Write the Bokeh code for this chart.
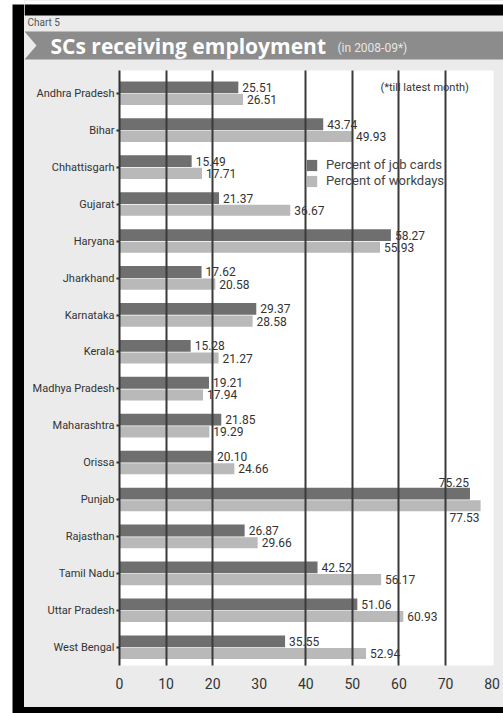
from bokeh.plotting import figure
from bokeh.layouts import row, column
from bokeh.models import (Range1d, FixedTicker, BoxAnnotation, PolyAnnotation, Label,
                          Legend, LegendItem, ColumnDataSource)
from bokeh.transform import dodge
from bokeh.core.properties import value
from bokeh.embed import file_html
from bokeh.resources import INLINE

# ---- data ----
states = ["Andhra Pradesh", "Bihar", "Chhattisgarh", "Gujarat", "Haryana", "Jharkhand",
          "Karnataka", "Kerala", "Madhya Pradesh", "Maharashtra", "Orissa", "Punjab",
          "Rajasthan", "Tamil Nadu", "Uttar Pradesh", "West Bengal"]
job_cards = [25.51, 43.74, 15.49, 21.37, 58.27, 17.62, 29.37, 15.28, 19.21, 21.85,
             20.10, 75.25, 26.87, 42.52, 51.06, 35.55]
work_days = [26.51, 49.93, 17.71, 36.67, 55.93, 20.58, 28.58, 21.27, 17.94, 19.29,
             24.66, 77.53, 29.66, 56.17, 60.93, 52.94]
x_ticks = [0, 10, 20, 30, 40, 50, 60, 70, 80]
grid_at = [10, 20, 40, 50, 60, 70]
series_names = ["Percent of job cards", "Percent of workdays"]
chart_no = "Chart 5"
title_text = "SCs receiving employment"
subtitle_text = "(in 2008-09*)"
note_text = "(*till latest month)"

DARK = "#6f6f6f"
LIGHT = "#b9b9b9"
PANEL = "#ebebeb"
BAND = "#8c8c8c"
TXT = "#333333"
FONT = "Roboto"


def blank(width, height, bg, border):
    f = figure(width=width, height=height, output_backend="svg", toolbar_location=None,
               x_axis_type=None, y_axis_type=None, min_border=0)
    f.background_fill_color = bg
    f.border_fill_color = border
    f.outline_line_color = None
    f.frame_align = False
    return f


def cbox(top, bottom, left, right, color):
    return BoxAnnotation(left=left, right=right, top=top, bottom=bottom,
                         left_units="canvas", right_units="canvas", top_units="canvas",
                         bottom_units="canvas", fill_color=color, fill_alpha=1,
                         line_color=None, level="underlay")


# ---- left black frame strip ----
left = blank(24, 713, "black", "white")
left.min_border_left = 12
left.min_border_top = 4

# ---- header ----
HW, HH = 479, 70
head = blank(HW, HH, PANEL, PANEL)
head.add_layout(cbox(0, 4, 0, HW, "white"))
head.add_layout(cbox(4, 15, 0, HW, "black"))
head.add_layout(PolyAnnotation(xs=[0, HW, HW, 0, 12], ys=[31, 31, 59, 59, 45],
                               xs_units="canvas", ys_units="canvas",
                               fill_color=BAND, fill_alpha=1, line_color=None))
head.add_layout(Label(x=3, y=22, x_units="canvas", y_units="canvas", text=chart_no,
                      text_font=FONT, text_font_size="10px", text_baseline="middle",
                      text_color="#555555"))
head.add_layout(Label(x=26, y=45, x_units="canvas", y_units="canvas", text=title_text,
                      text_font="Open Sans", text_font_style="bold",
                      text_font_size="21px", text_baseline="middle", text_color="white"))
head.add_layout(Label(x=313, y=47, x_units="canvas", y_units="canvas", text=subtitle_text,
                      text_font=FONT, text_font_size="12px", text_baseline="middle",
                      text_color="#e6e6e6"))

# ---- main chart ----
MW, MH = 479, 637
ys = list(range(len(states)))
p = figure(width=MW, height=MH, output_backend="svg", toolbar_location=None,
           x_range=Range1d(0, 80.3), y_range=Range1d(15.49, -0.62),
           min_border_left=95, min_border_right=10, min_border_top=0,
           min_border_bottom=42, styles={"background-color": PANEL})
p.background_fill_color = "white"
p.border_fill_color = PANEL
p.outline_line_color = None
p.frame_align = False

OFF = 0.165
src = ColumnDataSource(dict(y=ys, job=job_cards, work=work_days))
r1 = p.hbar(y=dodge("y", -OFF), left=0, right="job", height=0.32, source=src,
            fill_color=DARK, line_color=None)
r2 = p.hbar(y=dodge("y", OFF), left=0, right="work", height=0.30, source=src,
            fill_color=LIGHT, line_color=None)


def lbl_sources(vals, shift):
    normal = dict(x=[], y=[], t=[])
    long_ = dict(x=[], y=[], t=[])
    for i, v in enumerate(vals):
        d = long_ if v >= 70 else normal
        d["x"].append(v)
        d["y"].append(i + shift)
        d["t"].append(f"{v:.2f}")
    return normal, long_


for vals, shift, base, yo in ((job_cards, -OFF, "bottom", -7), (work_days, OFF, "top", 7)):
    normal, long_ = lbl_sources(vals, shift)
    p.text(x="x", y="y", text="t", source=ColumnDataSource(normal), x_offset=4,
           text_font=value(FONT), text_font_size="12px", text_baseline="middle",
           text_color=TXT)
    p.text(x="x", y="y", text="t", source=ColumnDataSource(long_), x_offset=-1, y_offset=yo,
           text_font=value(FONT), text_font_size="12px", text_baseline=base,
           text_align="right", text_color=TXT)

p.xaxis.ticker = FixedTicker(ticks=x_ticks)
p.xaxis.axis_line_color = None
p.xaxis.major_tick_line_color = None
p.xaxis.minor_tick_line_color = None
p.xaxis.major_label_text_font = FONT
p.xaxis.major_label_text_font_size = "14px"
p.xaxis.major_label_text_color = TXT
p.xaxis.major_label_standoff = 6

p.yaxis.ticker = FixedTicker(ticks=ys)
p.yaxis.major_label_overrides = {i: s for i, s in enumerate(states)}
p.yaxis.axis_line_color = "#333333"
p.yaxis.axis_line_width = 2
p.yaxis.major_tick_line_color = "#333333"
p.yaxis.major_tick_line_width = 2
p.yaxis.major_tick_out = 3
p.yaxis.major_tick_in = 0
p.yaxis.minor_tick_line_color = None
p.yaxis.major_label_text_font = FONT
p.yaxis.major_label_text_font_size = "11px"
p.yaxis.major_label_text_color = TXT
p.yaxis.major_label_standoff = 2

p.xgrid.ticker = FixedTicker(ticks=grid_at)
p.xgrid.grid_line_color = "#3a3a3a"
p.xgrid.grid_line_width = 2
p.xgrid.level = "overlay"
p.ygrid.visible = False

legend = Legend(items=[LegendItem(label=series_names[0], renderers=[r1]),
                       LegendItem(label=series_names[1], renderers=[r2])],
                location=(186, 477), padding=0, margin=0, spacing=1,
                glyph_width=13, glyph_height=14, label_height=14, label_standoff=8,
                label_text_font=FONT, label_text_font_size="13px",
                label_text_color="#444444", background_fill_alpha=0,
                border_line_alpha=0)
p.add_layout(legend)

p.add_layout(Label(x=356, y=17, x_units="canvas", y_units="canvas", text=note_text,
                   text_font=FONT, text_font_size="11px", text_baseline="middle",
                   text_color=TXT))

# ---- bottom black strip ----
bottom = blank(479, 6, "black", "black")
bottom.styles = {"background-color": "black"}

layout = row(left, column(head, p, bottom, spacing=0, styles={"background-color": PANEL}),
             spacing=0)

open("out.html", "w").write(file_html(layout, INLINE))
